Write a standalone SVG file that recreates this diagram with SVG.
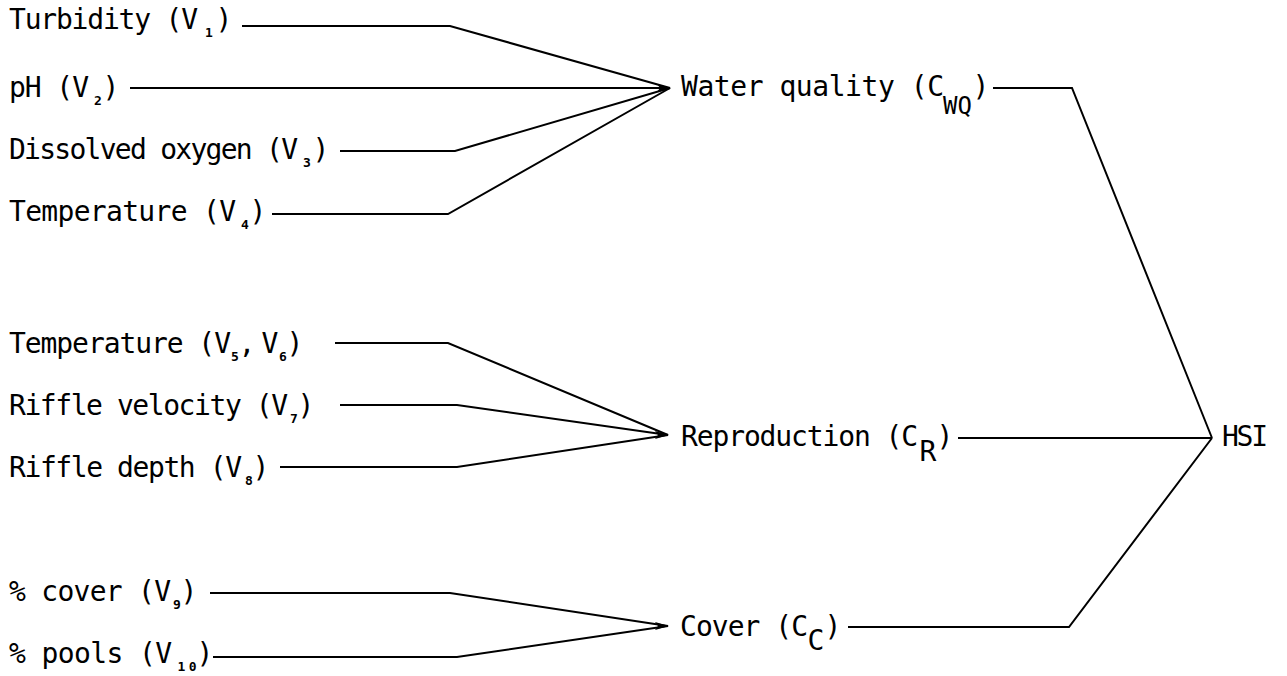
<svg xmlns="http://www.w3.org/2000/svg" width="1287" height="676" viewBox="0 0 1287 676">
<defs>
<style>
text{font-family:"DejaVu Sans Mono","Liberation Mono",monospace;font-size:28px;fill:#000}
.sub{font-size:13px;font-weight:bold;text-anchor:middle}
.c{text-anchor:middle}
.con path{fill:none;stroke:#000;stroke-width:2;stroke-linejoin:miter}
.tip{fill:#000;stroke:none}
</style>
</defs>
<rect width="1287" height="676" fill="#fff"/>

<g id="v1"><text x="9" y="29" textLength="189" lengthAdjust="spacing">Turbidity (V</text><text class="sub" x="209" y="37">1</text><text class="c" x="224" y="29">)</text></g>
<g id="v2"><text x="9" y="97" textLength="80" lengthAdjust="spacing">pH (V</text><text class="sub" x="98" y="105">2</text><text class="c" x="111" y="97">)</text></g>
<g id="v3"><text x="9" y="159" textLength="289" lengthAdjust="spacing">Dissolved oxygen (V</text><text class="sub" x="307" y="167">3</text><text class="c" x="321" y="159">)</text></g>
<g id="v4"><text x="9" y="221" textLength="227" lengthAdjust="spacing">Temperature (V</text><text class="sub" x="245" y="229">4</text><text class="c" x="258" y="221">)</text></g>

<g id="v56"><text x="9" y="353" textLength="222" lengthAdjust="spacing">Temperature (V</text><text class="sub" x="235" y="361">5</text><text class="c" x="247" y="353">,</text><text class="c" x="270" y="353">V</text><text class="sub" x="283" y="361">6</text><text class="c" x="295" y="353">)</text></g>
<g id="v7"><text x="9" y="415" textLength="279" lengthAdjust="spacing">Riffle velocity (V</text><text class="sub" x="294" y="423">7</text><text class="c" x="306" y="415">)</text></g>
<g id="v8"><text x="9" y="477" textLength="233" lengthAdjust="spacing">Riffle depth (V</text><text class="sub" x="249" y="485">8</text><text class="c" x="261" y="477">)</text></g>

<g id="v9"><text x="9" y="601" textLength="162" lengthAdjust="spacing">% cover (V</text><text class="sub" x="177" y="609">9</text><text class="c" x="189" y="601">)</text></g>
<g id="v10"><text x="9" y="663" textLength="163" lengthAdjust="spacing">% pools (V</text><text class="sub" x="187" y="671" textLength="19" lengthAdjust="spacing">10</text><text class="c" x="205" y="663">)</text></g>

<g id="cwq"><text x="681" y="96" textLength="263" lengthAdjust="spacing">Water quality (C</text><text x="943" y="114" style="font-size:24px">WQ</text><text class="c" x="981" y="96">)</text></g>
<g id="cr"><text x="681" y="446" textLength="237" lengthAdjust="spacing">Reproduction (C</text><text class="c" x="928" y="461">R</text><text class="c" x="945" y="446">)</text></g>
<g id="cc"><text x="680" y="636" textLength="128" lengthAdjust="spacing">Cover (C</text><text class="c" x="816" y="650">C</text><text class="c" x="833" y="636">)</text></g>
<g id="hsi"><text x="1222" y="446" textLength="46" lengthAdjust="spacing">HSI</text></g>

<g id="connectors" class="con">
<path d="M242,26 H450 L670,88"/>
<path d="M130,88 H670"/>
<path d="M340,151 H455 L670,88"/>
<path d="M272,214 H448 L670,88"/>
<path d="M335,343 H448 L668,435"/>
<path d="M340,405 H457 L668,435"/>
<path d="M280,467 H457 L668,435"/>
<path d="M210,593 H450 L668,626"/>
<path d="M213,657 H457 L668,626"/>
<path d="M993,88 H1072 L1212,438"/>
<path d="M958,438 H1212"/>
<path d="M848,627 H1069 L1212,438"/>
<polygon class="tip" points="671,88 657,84 660,88 657,92"/>
<polygon class="tip" points="669,435 655,431 658,435 655,439"/>
<polygon class="tip" points="669,626 655,622 658,626 655,630"/>
</g>
</svg>
